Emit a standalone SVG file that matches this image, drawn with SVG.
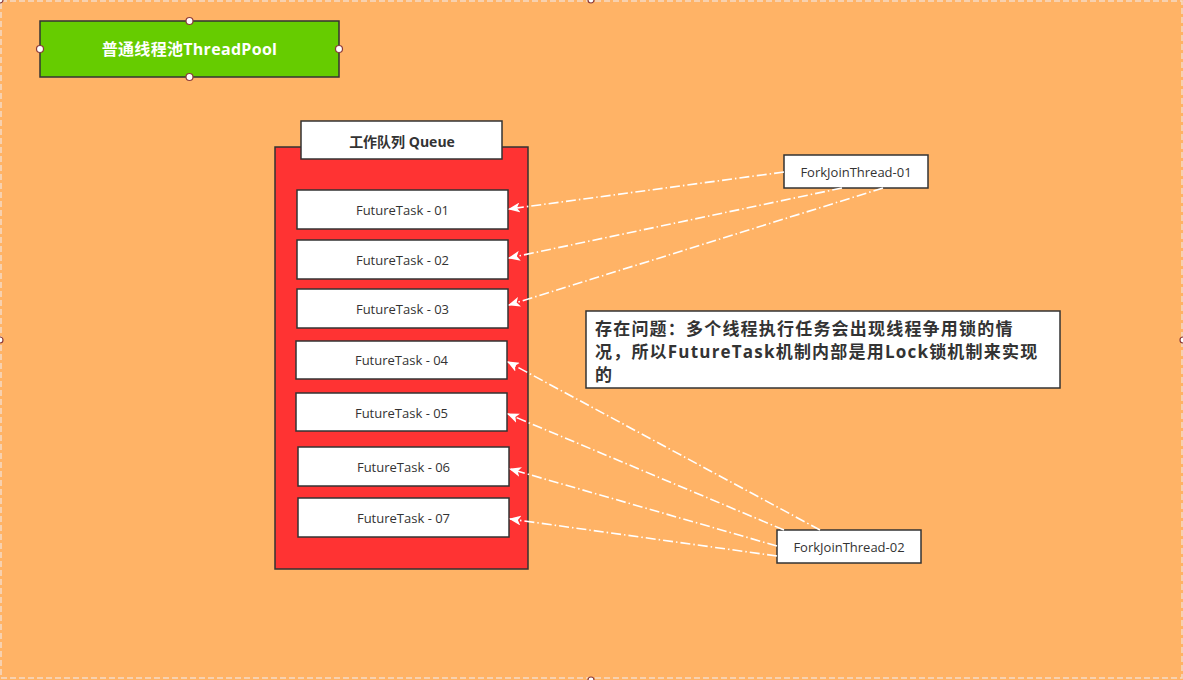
<svg xmlns="http://www.w3.org/2000/svg" width="1183" height="680" viewBox="0 0 1183 680">
<style>
.bg{fill:#FFB366;}
.frame{fill:none;stroke:#F5DCC8;stroke-width:1.5;stroke-dasharray:6 3;}
.handle{fill:#fff;stroke:#8B3A3A;stroke-width:1.2;}
.box{fill:#fff;stroke:#333;stroke-width:1.5;}
.task{font-family:"Open Sans","Noto Sans CJK SC",sans-serif;font-size:13px;fill:#333;text-anchor:middle;dominant-baseline:central;}
.conn{fill:none;stroke:#fff;stroke-width:1.6;stroke-dasharray:10 3 1.5 3;}
</style>
<defs>
<marker id="arr" viewBox="0 0 12 10" refX="11" refY="5" markerWidth="12" markerHeight="10" markerUnits="userSpaceOnUse" orient="auto">
<path d="M0,0 L12,5 L0,10 L3,5 Z" fill="#fff"/>
</marker>
</defs>
<rect class="bg" x="0" y="0" width="1183" height="680"/>
<rect class="frame" x="1" y="1" width="1181" height="677"/>
<circle class="handle" cx="591" cy="0" r="3"/>
<circle class="handle" cx="0" cy="340" r="3"/>
<circle class="handle" cx="1183" cy="340" r="3"/>
<circle class="handle" cx="591" cy="680" r="3"/>
<circle class="handle" cx="0" cy="0" r="3"/>

<g id="title">
<rect x="40" y="21" width="299" height="56" fill="#66CC00" stroke="#333" stroke-width="1.5"/>
<text x="189.5" y="49" font-family="Open Sans,Noto Sans CJK SC,sans-serif" font-size="16" font-weight="bold" fill="#fff" text-anchor="middle" dominant-baseline="central" letter-spacing="0.3">普通线程池ThreadPool</text>
<circle class="handle" cx="189.5" cy="21" r="3.5"/>
<circle class="handle" cx="189.5" cy="77" r="3.5"/>
<circle class="handle" cx="40" cy="49" r="3.5"/>
<circle class="handle" cx="339" cy="49" r="3.5"/>
</g>

<g id="queue">
<rect x="275" y="147" width="253" height="422" fill="#FF3333" stroke="#333" stroke-width="1.5"/>
<rect class="box" x="301" y="121" width="201" height="38"/>
<text x="402" y="141" font-family="Open Sans,Noto Sans CJK SC,sans-serif" font-size="14" font-weight="bold" fill="#333" text-anchor="middle" dominant-baseline="central">工作队列 Queue</text>
</g>

<g id="ft01"><rect class="box" x="297" y="190" width="211" height="39"/><text class="task" x="402.5" y="210">FutureTask - 01</text></g>
<g id="ft02"><rect class="box" x="297" y="240" width="211" height="39"/><text class="task" x="402.5" y="260">FutureTask - 02</text></g>
<g id="ft03"><rect class="box" x="297" y="289" width="211" height="39"/><text class="task" x="402.5" y="309">FutureTask - 03</text></g>
<g id="ft04"><rect class="box" x="296" y="341" width="211" height="38"/><text class="task" x="401.5" y="360">FutureTask - 04</text></g>
<g id="ft05"><rect class="box" x="296" y="393" width="211" height="38"/><text class="task" x="401.5" y="413">FutureTask - 05</text></g>
<g id="ft06"><rect class="box" x="298" y="447" width="211" height="39"/><text class="task" x="403.5" y="467">FutureTask - 06</text></g>
<g id="ft07"><rect class="box" x="298" y="498" width="211" height="39"/><text class="task" x="403.5" y="518">FutureTask - 07</text></g>

<g id="fj01"><rect class="box" x="784" y="155" width="144" height="33"/><text class="task" x="856" y="171.5">ForkJoinThread-01</text></g>
<g id="fj02"><rect class="box" x="777" y="530" width="144" height="33"/><text class="task" x="849" y="546.5">ForkJoinThread-02</text></g>

<g id="note">
<rect class="box" x="586" y="311" width="474" height="77"/>
<text font-family="Open Sans,Noto Sans CJK SC,sans-serif" font-size="17" font-weight="bold" fill="#333" letter-spacing="1.2">
<tspan x="595" y="335">存在问题：多个线程执行任务会出现线程争用锁的情</tspan>
<tspan x="595" y="358">况，所以FutureTask机制内部是用Lock锁机制来实现</tspan>
<tspan x="595" y="381">的</tspan>
</text>
</g>

<g id="connectors">
<path class="conn" marker-end="url(#arr)" d="M784,172 L509,209"/>
<path class="conn" marker-end="url(#arr)" d="M842,188 L509,258"/>
<path class="conn" marker-end="url(#arr)" d="M883,188 L509,305"/>
<path class="conn" marker-end="url(#arr)" d="M820,530 L508,362"/>
<path class="conn" marker-end="url(#arr)" d="M784,530 L508,414"/>
<path class="conn" marker-end="url(#arr)" d="M777,546 L510,469"/>
<path class="conn" marker-end="url(#arr)" d="M777,556 L510,519"/>
</g>
</svg>
